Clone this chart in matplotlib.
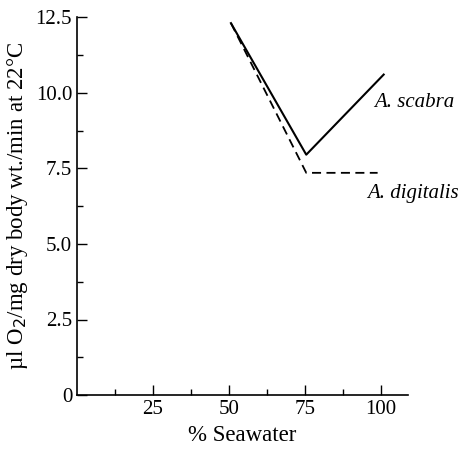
import matplotlib
matplotlib.use("Agg")
import matplotlib.pyplot as plt

plt.rcParams['font.family'] = ['Liberation Serif', 'DejaVu Serif']

scabra_x = [50.7, 75.5, 101.0]
scabra_y = [12.3, 7.95, 10.6]
digitalis_x = [50.7, 73.5, 75.5, 99.0]
digitalis_y = [12.3, 7.75, 7.35, 7.35]

x_ticks = [25, 50, 75, 100]
x_minor = [12.5, 37.5, 62.5, 87.5]
y_ticks = [0, 2.5, 5.0, 7.5, 10.0, 12.5]
y_labels = ["0", "2.5", "5.0", "7.5", "10.0", "12.5"]
y_minor = [1.25, 3.75, 6.25, 8.75, 11.25]

fig = plt.figure(figsize=(4.61, 4.5), dpi=100)
ax = fig.add_axes([0.167, 0.122, 0.718, 0.84])

ax.plot(scabra_x, scabra_y, color="black", lw=1.5)
ax.plot(digitalis_x, digitalis_y, color="black", lw=1.3, linestyle=(0, (5, 3)))

ax.text(111, 9.67, "A. scabra", style="italic", fontsize=15, ha="center", va="center")
ax.text(110.5, 6.68, "A. digitalis", style="italic", fontsize=15, ha="center", va="center")

ax.set_xlim(0, 109)
ax.set_ylim(0, 12.5)
ax.set_xticks(x_ticks)
ax.set_xticks(x_minor, minor=True)
ax.set_yticks(y_ticks)
ax.set_yticklabels(y_labels)
ax.set_yticks(y_minor, minor=True)
ax.tick_params(direction="in", length=7, width=1, labelsize=15)
ax.tick_params(which="minor", direction="in", length=4, width=1)

for s in ["top", "right"]:
    ax.spines[s].set_visible(False)
for s in ["left", "bottom"]:
    ax.spines[s].set_linewidth(1.2)

ax.set_xlabel("% Seawater", fontsize=16.5)
ax.set_ylabel("µl O$_2$/mg dry body wt./min at 22°C", fontsize=16.5, labelpad=4)

fig.savefig("out.png", dpi=100)
